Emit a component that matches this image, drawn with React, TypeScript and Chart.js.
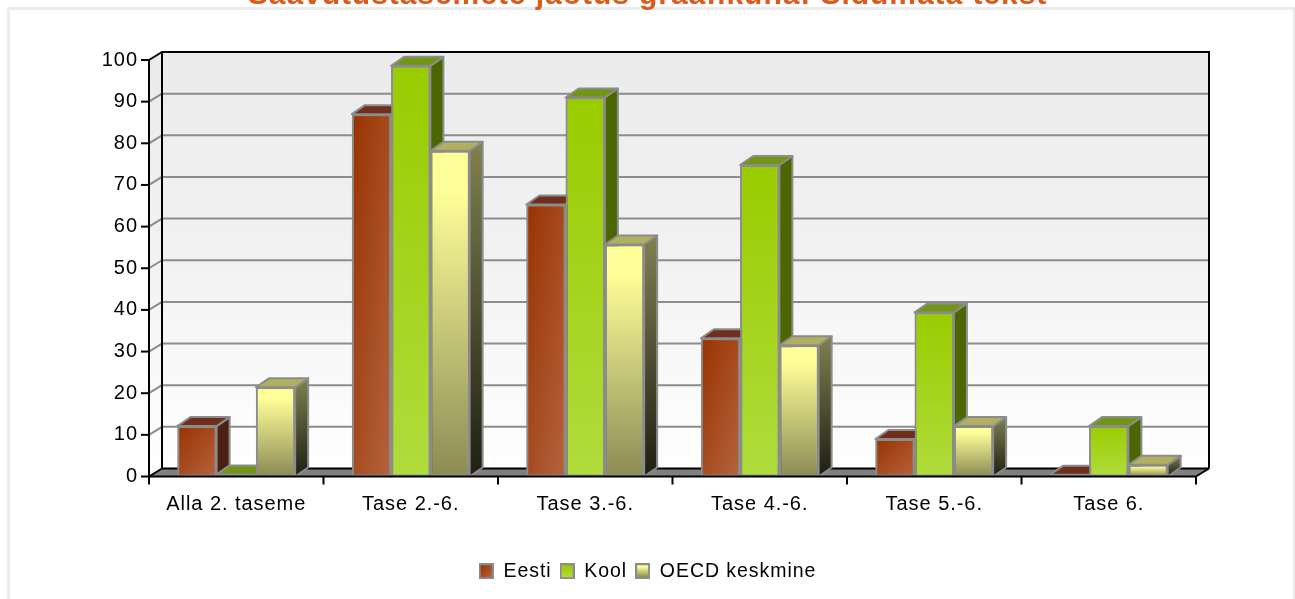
import React, { useEffect, useRef } from "react";
import { Chart, registerables } from "chart.js";

Chart.register(...registerables);

const categories = ["Alla 2. taseme", "Tase 2.-6.", "Tase 3.-6.", "Tase 4.-6.", "Tase 5.-6.", "Tase 6."];
const eesti = [12.1, 87, 65.3, 33.2, 9, 0.4];
const kool = [0.5, 98.6, 91, 74.8, 39.4, 12.1];
const oecd = [21.4, 78.2, 55.7, 31.5, 12.1, 2.8];
const seriesNames = ["Eesti", "Kool", "OECD keskmine"];
const titleText = "Saavutustasemete jaotus graafikuna: Sidumata tekst";

const DX = 13;
const DY = 9;
const WALL_DY = 8;
const GROUP = 0.675;
const FONT = "'Liberation Sans', Arial, sans-serif";
const GREY = "#8c8c8c";
const SPACING = "0.95px";

type Look = { stops: [number, string][]; diagonal: boolean; top: string; side: string[] };
const looks: Look[] = [
  { stops: [[0, "#993300"], [1, "#b4633f"]], diagonal: true, top: "#6f2f1c", side: ["#4f2012", "#4a2012"] },
  { stops: [[0, "#99cc00"], [1, "#b0dc3c"]], diagonal: false, top: "#719514", side: ["#4c6600", "#4c6600"] },
  { stops: [[0, "#ffff99"], [0.12, "#ffff99"], [1, "#8b8b55"]], diagonal: false, top: "#b0b060", side: ["#808050", "#1f1f14"] },
];

function faceGradient(ctx: any, look: Look, x0: number, y0: number, x1: number, y1: number) {
  let g;
  if (look.diagonal) {
    const w = x1 - x0;
    const h = Math.max(y1 - y0, 1);
    const k = (w * h * 2) / (w * w + h * h);
    g = ctx.createLinearGradient(x0, y0, x0 + h * k, y0 + w * k);
  } else {
    g = ctx.createLinearGradient(x0, y0, x0, Math.max(y1, y0 + 1));
  }
  look.stops.forEach(([o, c]) => g.addColorStop(o, c));
  return g;
}

function scriptedFill(seriesIndex: number) {
  return (c: any) => {
    const look = looks[seriesIndex];
    if (c.raw === undefined) return look.stops[0][1];
    const { x, y } = c.chart.scales;
    const barW = ((x.width / categories.length) * GROUP) / 3;
    const left = x.getPixelForValue(c.dataIndex) + (seriesIndex - 1.5) * barW;
    return faceGradient(c.chart.ctx, look, left, y.getPixelForValue(c.raw), left + barW, y.getPixelForValue(0));
  };
}

function swatch(look: Look) {
  const cv = document.createElement("canvas");
  cv.width = 15;
  cv.height = 16;
  const c = cv.getContext("2d")!;
  c.fillStyle = GREY;
  c.fillRect(0, 0, 15, 16);
  c.fillStyle = faceGradient(c, look, 2, 2, 13, 14);
  c.fillRect(2, 2, 11, 12);
  return cv;
}

function poly(ctx: CanvasRenderingContext2D, pts: number[][], fill: any, stroke?: string, lw = 2) {
  ctx.beginPath();
  pts.forEach((p, i) => (i ? ctx.lineTo(p[0], p[1]) : ctx.moveTo(p[0], p[1])));
  ctx.closePath();
  ctx.fillStyle = fill;
  ctx.fill();
  if (stroke) {
    ctx.strokeStyle = stroke;
    ctx.lineWidth = lw;
    ctx.lineJoin = "round";
    ctx.stroke();
  }
}

function line(ctx: CanvasRenderingContext2D, x0: number, y0: number, x1: number, y1: number, color: string, lw: number) {
  ctx.beginPath();
  ctx.moveTo(x0, y0);
  ctx.lineTo(x1, y1);
  ctx.strokeStyle = color;
  ctx.lineWidth = lw;
  ctx.stroke();
}

const frame3d = {
  id: "frame3d",
  beforeUpdate(chart: any) {
    chart.ctx.letterSpacing = SPACING;
  },
  beforeDraw(chart: any) {
    const ctx = chart.ctx;
    ctx.save();
    ctx.strokeStyle = "#ebebeb";
    ctx.lineWidth = 3;
    ctx.strokeRect(8.5, 8.5, 1286, 620);
    ctx.restore();
  },
  beforeDatasetsDraw(chart: any) {
    const ctx = chart.ctx as CanvasRenderingContext2D;
    const { x, y } = chart.scales;
    const L = x.left, R = x.right, T = y.top, B = y.bottom;
    ctx.save();
    const wall = ctx.createLinearGradient(0, T - WALL_DY, 0, B - WALL_DY);
    wall.addColorStop(0, "#ebebeb");
    wall.addColorStop(0.5, "#f2f2f2");
    wall.addColorStop(1, "#ffffff");
    ctx.fillStyle = wall;
    ctx.fillRect(L + DX, T - WALL_DY, R - L, B - T);
    poly(ctx, [[L, T], [L + DX, T - WALL_DY], [L + DX, B - WALL_DY], [L, B]], wall);
    poly(ctx, [[L, B], [L + DX, B - WALL_DY], [R + DX, B - WALL_DY], [R, B]], "#808080");
    y.ticks.forEach((t: any) => {
      const p = y.getPixelForValue(t.value);
      if (t.value > 0 && t.value < 100) {
        line(ctx, L + DX, p - WALL_DY, R + DX, p - WALL_DY, GREY, 2);
        line(ctx, L, p, L + DX, p - WALL_DY, GREY, 2);
      }
      line(ctx, L - 8, p, L, p, "#000", 2);
    });
    line(ctx, L, T, L + DX, T - WALL_DY, "#000", 2);
    line(ctx, L, B, L + DX, B - WALL_DY, "#000", 2);
    line(ctx, L, T - 1, L, B + 1, "#000", 2);
    line(ctx, L + DX, T - WALL_DY - 1, L + DX, B - WALL_DY, "#000", 2);
    line(ctx, L + DX, T - WALL_DY, R + DX, T - WALL_DY, "#000", 2);
    line(ctx, R + DX, T - WALL_DY - 1, R + DX, B - WALL_DY, "#000", 2);
    line(ctx, L + DX, B - WALL_DY, R + DX, B - WALL_DY, "#000", 2);
    line(ctx, R, B, R + DX, B - WALL_DY, "#000", 2);
    const step = (R - L) / categories.length;
    for (let i = 0; i <= categories.length; i++) {
      line(ctx, L + step * i, B, L + step * i, B + 8, "#000", 2);
    }
    ctx.restore();
  },
  afterDatasetsDraw(chart: any) {
    // paint series left to right so that each front hides the previous series' side
    const ctx = chart.ctx as CanvasRenderingContext2D;
    ctx.save();
    seriesNames.forEach((_, i) => {
      const look = looks[i];
      chart.getDatasetMeta(i).data.forEach((bar: any) => {
        bar.draw(ctx);
        const hw = bar.width / 2;
        const xl = bar.x - hw, xr = bar.x + hw, yt = bar.y, yb = bar.base;
        const sg = ctx.createLinearGradient(0, yt - DY, 0, yb);
        sg.addColorStop(0, look.side[0]);
        sg.addColorStop(1, look.side[1]);
        poly(ctx, [[xr, yt], [xr + DX, yt - DY], [xr + DX, yb - DY], [xr, yb]], sg, GREY);
        poly(ctx, [[xl, yt], [xl + DX, yt - DY], [xr + DX, yt - DY], [xr, yt]], look.top, GREY);
      });
    });
    const { x, y } = chart.scales;
    line(ctx, x.left, y.bottom, x.right, y.bottom, "#000", 2);
    ctx.restore();
  },
};

export default function App() {
  const ref = useRef<HTMLCanvasElement>(null);
  useEffect(() => {
    const series = [eesti, kool, oecd];
    const swatches = looks.map(swatch);
    const chart = new Chart(ref.current!, {
      type: "bar",
      plugins: [frame3d],
      data: {
        labels: categories,
        datasets: series.map((d, i) => ({
          label: seriesNames[i],
          data: d,
          backgroundColor: scriptedFill(i),
          borderColor: GREY,
          borderWidth: 2,
          borderSkipped: false,
          barPercentage: 1,
          categoryPercentage: GROUP,
        })),
      },
      options: {
        responsive: false,
        animation: false,
        layout: { padding: { left: 0, right: 0, top: 0, bottom: 8 } },
        plugins: {
          tooltip: { enabled: false },
          title: {
            display: true,
            text: titleText,
            color: "#dc5a1e",
            font: { family: FONT, size: 30, weight: "bold", lineHeight: 1 },
            padding: { top: -19.5, bottom: 49.5 },
          },
          legend: {
            position: "bottom",
            labels: {
              color: "#000",
              font: { family: FONT, size: 19.5 },
              usePointStyle: true,
              boxWidth: 15,
              boxHeight: 16,
              padding: 8,
              generateLabels: () =>
                seriesNames.map((n, i) => ({ text: n, pointStyle: swatches[i], fontColor: "#000", hidden: false, datasetIndex: i })),
            },
          },
        },
        scales: {
          x: {
            grid: { display: false },
            border: { display: false },
            ticks: { color: "#000", font: { family: FONT, size: 20 }, padding: 8, maxRotation: 0 },
            afterFit: (s: any) => { s.height = 77; },
          },
          y: {
            min: 0,
            max: 100,
            grid: { display: false },
            border: { display: false },
            ticks: { stepSize: 10, color: "#000", font: { family: FONT, size: 20 }, padding: 3 },
            afterFit: (s: any) => { s.width = 149; },
          },
          spacer: {
            position: "right",
            display: true,
            grid: { display: false },
            border: { display: false },
            ticks: { display: false },
            afterFit: (s: any) => { s.width = 99; },
          },
        },
      } as any,
    });
    return () => chart.destroy();
  }, []);
  return (
    <div style={{ position: "fixed", left: 0, top: 0, width: 1295, height: 599, overflow: "hidden", background: "#fff" }}>
      <canvas ref={ref} width={1295} height={599} style={{ display: "block" }} />
    </div>
  );
}
